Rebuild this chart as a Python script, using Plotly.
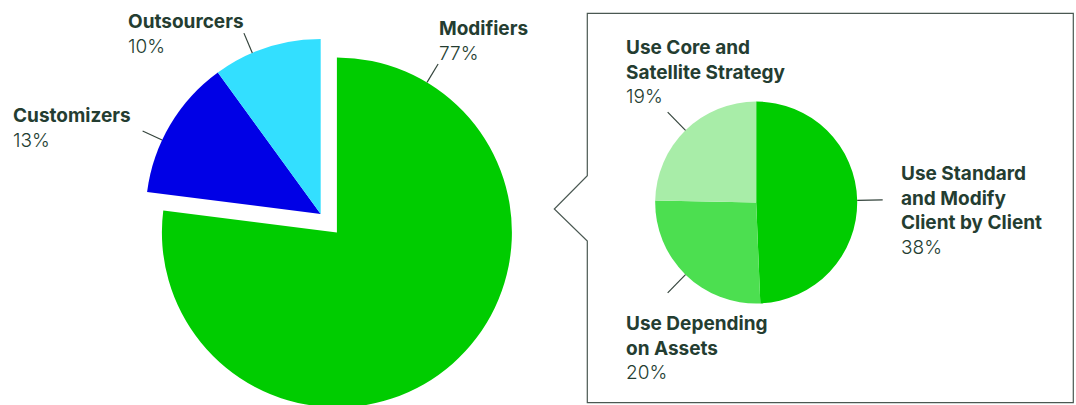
import math
import plotly.graph_objects as go

# ---------------- data ----------------
main_labels = ["Modifiers", "Customizers", "Outsourcers"]
main_values = [77, 13, 10]

sub_labels = ["Use Standard<br>and Modify<br>Client by Client",
              "Use Depending<br>on Assets",
              "Use Core and<br>Satellite Strategy"]
sub_values = [38, 20, 19]

# ---------------- style / layout ----------------
main_colors = ["#00CC00", "#0000E6", "#33DFFF"]
sub_colors = ["#00CC00", "#4CDF50", "#A8EDA8"]
main_pull = [0.14, 0, 0]

W, H = 1076, 420
FONT = "Inter"
FSIZE = 19
TXT = "#243d31"
LINE = "#34443c"

main_cx, main_cy, main_r = 320.7, 214.0, 175.0
sub_cx, sub_cy, sub_r = 756.2, 202.5, 101.0

# angle (deg clockwise from 12 o'clock) where the big-pie leader lines touch
main_line_angles = [31, 295, 337]
main_label_pos = [(439, 35.5), (13.3, 122.0), (128.3, 28.0)]  # left x, first baseline
sub_label_pos = [(901, 180.7), (625.7, 330.7), (625.7, 54.0)]
LEAD = 21.5
SUB_LEAD = 25.5


def px(x):
    return x / W


def py(y):
    return 1 - y / H


def domain(cx, cy, half):
    return dict(x=[px(cx - half), px(cx + half)], y=[py(cy + half), py(cy - half)])


fig = go.Figure()
fig.add_trace(go.Pie(
    labels=main_labels, values=main_values, sort=False, direction="clockwise",
    rotation=0, pull=main_pull, textinfo="none", hoverinfo="label+percent",
    marker=dict(colors=main_colors, line=dict(width=0)),
    domain=domain(main_cx, main_cy, main_r * (1 + max(main_pull))),
    showlegend=False,
))
fig.add_trace(go.Pie(
    labels=[l.replace("<br>", " ") for l in sub_labels], values=sub_values,
    sort=False, direction="clockwise", rotation=0, textinfo="none",
    hoverinfo="label+value",
    marker=dict(colors=sub_colors, line=dict(width=0)),
    domain=domain(sub_cx, sub_cy, sub_r),
    showlegend=False,
))

shapes = []
annotations = []


def radial(cx, cy, r, ang, length):
    a = math.radians(ang)
    return (cx + r * math.sin(a), cy - r * math.cos(a),
            cx + (r + length) * math.sin(a), cy - (r + length) * math.cos(a))


def add_line(x0, y0, x1, y1):
    shapes.append(dict(type="line", xref="paper", yref="paper",
                       x0=px(x0), y0=py(y0), x1=px(x1), y1=py(y1),
                       line=dict(color=LINE, width=1.2)))


def add_label(text_label, pct, pos):
    x, base = pos
    top = base - 0.97 * FSIZE
    annotations.append(dict(
        xref="paper", yref="paper", x=px(x), y=py(top),
        xanchor="left", yanchor="top", align="left", showarrow=False,
        borderpad=0, borderwidth=0,
        text=f"<b>{text_label}</b><br>{pct}%",
        font=dict(family=FONT, size=FSIZE, color=TXT, weight=300),
    ))


# big pie leader lines + labels
total = sum(main_values)
cum = 0
for i, v in enumerate(main_values):
    mid = (cum + v / 2) / total * 360
    cum += v
    cx, cy = main_cx, main_cy
    if main_pull[i]:
        a = math.radians(mid)
        cx += main_pull[i] * main_r * math.sin(a)
        cy -= main_pull[i] * main_r * math.cos(a)
    add_line(*radial(cx, cy, main_r, main_line_angles[i], LEAD))
    add_label(main_labels[i], round(v / total * 100), main_label_pos[i])

# small pie leader lines + labels (at slice midpoints)
stotal = sum(sub_values)
cum = 0
for i, v in enumerate(sub_values):
    mid = (cum + v / 2) / stotal * 360
    cum += v
    add_line(*radial(sub_cx, sub_cy, sub_r, mid, SUB_LEAD))
    add_label(sub_labels[i], v, sub_label_pos[i])

# callout box with notch
bl, bt, br, bb = 587.3, 13.3, 1073.3, 402.7
n_top, n_tip_x, n_tip_y, n_bot = 175.7, 554.3, 209.0, 241.0
pts = [(bl, bt), (br, bt), (br, bb), (bl, bb), (bl, n_bot), (n_tip_x, n_tip_y), (bl, n_top)]
path = "M " + " L ".join(f"{px(x):.5f},{py(y):.5f}" for x, y in pts) + " Z"
shapes.append(dict(type="path", xref="paper", yref="paper", path=path,
                   line=dict(color="#4a5852", width=1.2), fillcolor="rgba(0,0,0,0)",
                   layer="below"))

fig.update_layout(
    width=W, height=H, margin=dict(l=0, r=0, t=0, b=0),
    paper_bgcolor="white", plot_bgcolor="white",
    shapes=shapes, annotations=annotations, template="none",
)

fig.write_html(
    "out.html",
    config={"displayModeBar": False},
    post_script="document.body.style.margin='0';document.body.style.overflow='hidden';"
                "document.documentElement.style.overflow='hidden';",
)
